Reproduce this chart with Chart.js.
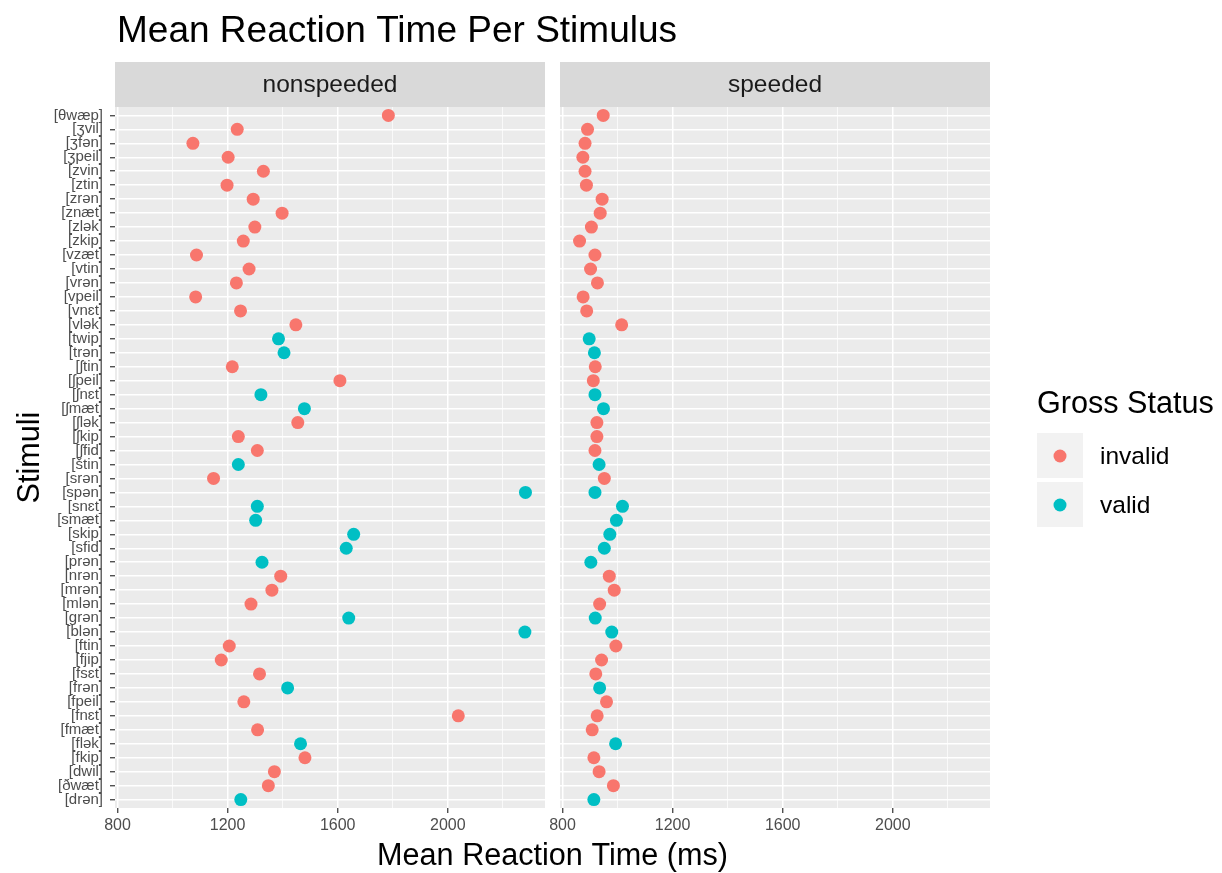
<!DOCTYPE html>
<html>
<head>
<meta charset="utf-8">
<title>Mean Reaction Time Per Stimulus</title>
<script src="https://cdn.jsdelivr.net/npm/chart.js@4.4.0/dist/chart.umd.min.js"></script>
<style>
  body { margin: 0; background: #ffffff; }
  canvas { position: absolute; left: 0; top: 0; }
</style>
</head>
<body>
<canvas id="nonspeededChart" width="1222" height="873"></canvas>
<canvas id="speededChart" width="1222" height="873"></canvas>
<script>
// stimuli, top row first
const stimuli = [
    '[θwæp]', '[ʒvil]', '[ʒfən]', '[ʒpeil]', '[zvin]', '[ztin]', '[zrən]', '[znæt]', '[zlək]', '[zkip]',
    '[vzæt]', '[vtin]', '[vrən]', '[vpeil]', '[vnɛt]', '[vlək]', '[twip]', '[trən]', '[ʃtin]', '[ʃpeil]',
    '[ʃnɛt]', '[ʃmæt]', '[ʃlək]', '[ʃkip]', '[ʃfid]', '[štin]', '[srən]', '[spən]', '[snɛt]', '[smæt]',
    '[skip]', '[sfid]', '[prən]', '[nrən]', '[mrən]', '[mlən]', '[grən]', '[blən]', '[ftin]', '[fjip]',
    '[fsɛt]', '[frən]', '[fpeil]', '[fnɛt]', '[fmæt]', '[flək]', '[fkip]', '[dwil]', '[ðwæt]', '[drən]'
];

const grossStatus = [
    'invalid', 'invalid', 'invalid', 'invalid', 'invalid', 'invalid', 'invalid', 'invalid', 'invalid', 'invalid',
    'invalid', 'invalid', 'invalid', 'invalid', 'invalid', 'invalid', 'valid', 'valid', 'invalid', 'invalid',
    'valid', 'valid', 'invalid', 'invalid', 'invalid', 'valid', 'invalid', 'valid', 'valid', 'valid',
    'valid', 'valid', 'valid', 'invalid', 'invalid', 'invalid', 'valid', 'valid', 'invalid', 'invalid',
    'invalid', 'valid', 'invalid', 'invalid', 'invalid', 'valid', 'invalid', 'invalid', 'invalid', 'valid'
];

const nonspeededRT = [
    1784, 1235, 1074, 1202, 1330, 1198, 1293, 1398, 1299, 1257,
    1087, 1278, 1232, 1084, 1247, 1448, 1385, 1405, 1217, 1608,
    1321, 1479, 1455, 1239, 1308, 1239, 1149, 2282, 1308, 1302,
    1658, 1631, 1325, 1393, 1361, 1285, 1640, 2280, 1206, 1177,
    1316, 1418, 1259, 2038, 1309, 1465, 1481, 1370, 1348, 1248
];

const speededRT = [
    948, 891, 882, 874, 882, 887, 944, 937, 905, 862,
    918, 902, 927, 875, 888, 1015, 897, 916, 919, 912,
    918, 949, 925, 925, 918, 933, 952, 918, 1018, 996,
    972, 952, 903, 970, 988, 935, 919, 979, 994, 942,
    921, 935, 960, 926, 908, 993, 914, 933, 985, 914
];

const statusNames = ['invalid', 'valid'];
const statusColors = ['#F8766D', '#00BFC4'];
const xGridValues = [800, 1000, 1200, 1400, 1600, 1800, 2000, 2200];
const xTickLabels = [800, 1200, 1600, 2000];

const FONT = '"Liberation Sans", Arial, Helvetica, sans-serif';
Chart.defaults.font.family = FONT;

function facetDatasets(values) {
    return statusNames.map((status, s) => ({
        label: status,
        data: values.map((v, i) => ({ x: v, y: i })).filter((p, i) => grossStatus[i] === status),
        backgroundColor: statusColors[s],
        pointRadius: 6.5,
        pointHoverRadius: 6.5,
        borderWidth: 0,
    }));
}

const isMajor = c => c.tick && xTickLabels.includes(c.tick.value);

function xScale() {
    return {
        type: 'linear',
        min: 791,
        max: 2353,
        afterBuildTicks: s => { s.ticks = xGridValues.map(v => ({ value: v })); },
        afterFit: s => { s.height = 65; },
        border: { display: false },
        grid: {
            color: '#FFFFFF',
            lineWidth: c => isMajor(c) ? 1.5 : 0.7,
            tickColor: c => isMajor(c) ? '#333333' : 'rgba(0,0,0,0)',
            tickLength: 5,
            tickWidth: 1.2,
        },
        ticks: {
            autoSkip: false,
            maxRotation: 0,
            callback: v => xTickLabels.includes(v) ? String(v) : '',
            color: '#4D4D4D',
            font: { size: 16 },
            padding: 3,
        },
    };
}

function yScale(showLabels) {
    return {
        type: 'linear',
        reverse: true,
        min: -0.6,
        max: stimuli.length - 0.4,
        afterBuildTicks: s => { s.ticks = stimuli.map((_, i) => ({ value: i })); },
        afterFit: s => { s.width = showLabels ? 115 : 10; },
        border: { display: false },
        grid: {
            color: '#FFFFFF',
            lineWidth: 1.5,
            drawTicks: showLabels,
            tickColor: '#333333',
            tickLength: 5,
            tickWidth: 1.2,
        },
        ticks: {
            display: showLabels,
            autoSkip: false,
            callback: v => stimuli[v],
            color: '#4D4D4D',
            font: { size: 15 },
            padding: 7,
        },
        title: {
            display: showLabels,
            text: 'Stimuli',
            color: '#000000',
            font: { size: 30.6 },
            padding: { top: 12, bottom: 0 },
        },
    };
}

// grey panel and facet strip
const panelBackground = {
    id: 'panelBackground',
    beforeDraw(chart, args, opts) {
        const { ctx, chartArea: a } = chart;
        ctx.save();
        ctx.fillStyle = '#EBEBEB';
        ctx.fillRect(a.left, a.top, a.right - a.left, a.bottom - a.top);
        ctx.fillStyle = '#D9D9D9';
        ctx.fillRect(a.left, 62, a.right - a.left, a.top - 62);
        ctx.fillStyle = '#1A1A1A';
        ctx.font = '24.5px ' + FONT;
        ctx.textAlign = 'center';
        ctx.textBaseline = 'middle';
        ctx.fillText(opts.strip, (a.left + a.right) / 2, 85);
        ctx.restore();
    }
};

// title, shared x title and legend
const figureText = {
    id: 'figureText',
    afterDraw(chart) {
        const ctx = chart.ctx;
        ctx.save();
        ctx.fillStyle = '#000000';
        ctx.textAlign = 'left';
        ctx.textBaseline = 'alphabetic';
        ctx.font = '37px ' + FONT;
        ctx.fillText('Mean Reaction Time Per Stimulus', 117, 42);

        ctx.font = '30.6px ' + FONT;
        ctx.textAlign = 'center';
        ctx.textBaseline = 'middle';
        ctx.fillText('Mean Reaction Time (ms)', 552.5, 857);

        ctx.textAlign = 'left';
        ctx.fillText('Gross Status', 1037, 405);
        statusNames.forEach((name, s) => {
            const y = 456 + s * 49;
            ctx.fillStyle = '#F2F2F2';
            ctx.fillRect(1037, y - 23, 46, 45);
            ctx.fillStyle = statusColors[s];
            ctx.beginPath();
            ctx.arc(1060, y, 6.5, 0, Math.PI * 2);
            ctx.fill();
            ctx.fillStyle = '#000000';
            ctx.font = '24.5px ' + FONT;
            ctx.fillText(name, 1100, y + 1);
        });
        ctx.restore();
    }
};

function makeFacet(canvasId, values, strip, padding, showLabels, extraPlugins) {
    return new Chart(document.getElementById(canvasId), {
        type: 'scatter',
        data: { datasets: facetDatasets(values) },
        options: {
            responsive: false,
            animation: false,
            devicePixelRatio: 1,
            layout: { padding: padding },
            scales: { x: xScale(), y: yScale(showLabels) },
            plugins: {
                legend: { display: false },
                tooltip: { enabled: false },
                panelBackground: { strip: strip },
            },
        },
        plugins: [panelBackground].concat(extraPlugins),
    });
}

makeFacet('nonspeededChart', nonspeededRT, 'nonspeeded',
    { top: 107, right: 677, bottom: 0, left: 0 }, true, [figureText]);
makeFacet('speededChart', speededRT, 'speeded',
    { top: 107, right: 232, bottom: 0, left: 550 }, false, []);
</script>
</body>
</html>
